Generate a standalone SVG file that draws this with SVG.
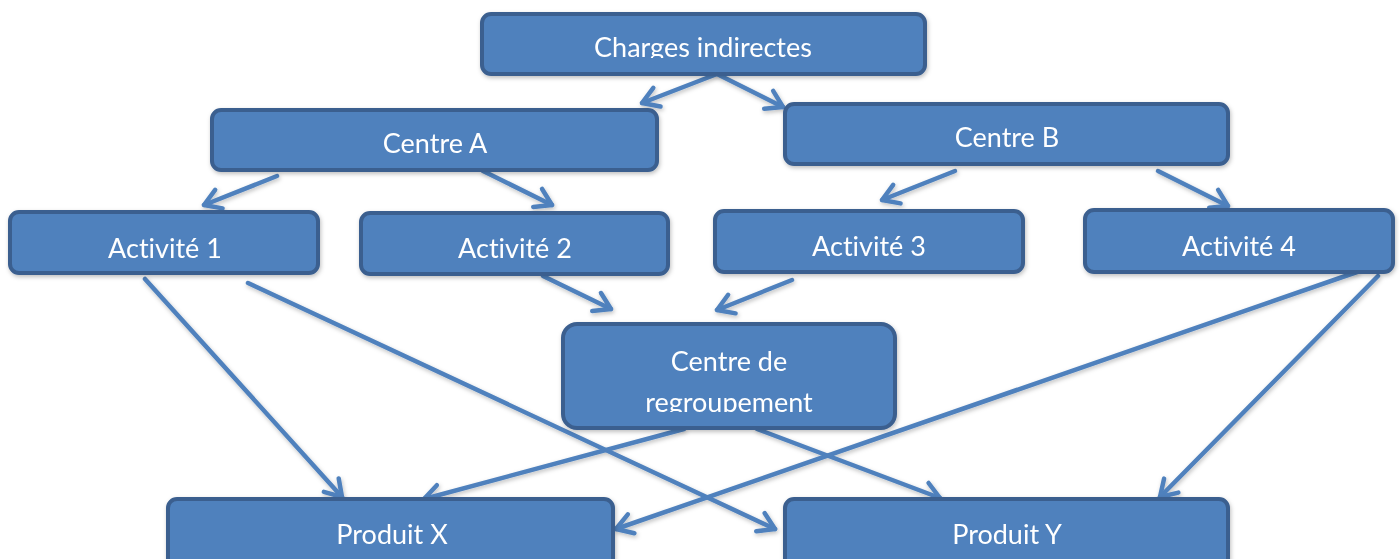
<svg xmlns="http://www.w3.org/2000/svg" width="1400" height="559" viewBox="0 0 1400 559">
<defs>
<style>
.box{fill:#4F81BD;stroke:#3B5F8F;stroke-width:4}
.lbl{font-family:Lato,"Open Sans","Liberation Sans",sans-serif;font-size:27px;fill:#FFFFFF;text-anchor:middle;font-variant-ligatures:none;font-feature-settings:"liga" 0}
.con{stroke:#4F81BD;stroke-width:4.5;fill:none;stroke-linecap:round}
</style>
<filter id="sh" x="-10%" y="-10%" width="120%" height="130%">
<feDropShadow dx="1" dy="2" stdDeviation="2" flood-color="#000" flood-opacity="0.25"/>
</filter>
<marker id="arr" viewBox="-22 -14 28 28" markerWidth="28" markerHeight="28" refX="0" refY="0" orient="auto" markerUnits="userSpaceOnUse">
<path d="M-16,-10 L0,0 L-16,10" fill="none" stroke="#4F81BD" stroke-width="4.5" stroke-linecap="round" stroke-linejoin="round"/>
</marker>
<clipPath id="c1"><rect x="480" y="10" width="450" height="48"/></clipPath>
<clipPath id="c2"><rect x="560" y="320" width="340" height="92"/></clipPath>
</defs>
<g id="connectors" filter="url(#sh)">
<line class="con" x1="717" y1="74" x2="642" y2="103" marker-end="url(#arr)"/>
<line class="con" x1="717" y1="74" x2="783" y2="107" marker-end="url(#arr)"/>
<line class="con" x1="277" y1="176" x2="204" y2="205" marker-end="url(#arr)"/>
<line class="con" x1="483" y1="171" x2="552" y2="205" marker-end="url(#arr)"/>
<line class="con" x1="955" y1="171" x2="882" y2="200" marker-end="url(#arr)"/>
<line class="con" x1="1158" y1="171" x2="1228" y2="206" marker-end="url(#arr)"/>
<line class="con" x1="543" y1="276" x2="611" y2="309" marker-end="url(#arr)"/>
<line class="con" x1="792" y1="280" x2="717" y2="310" marker-end="url(#arr)"/>
<line class="con" x1="145" y1="279" x2="342" y2="497" marker-end="url(#arr)"/>
<line class="con" x1="248" y1="283" x2="775" y2="529" marker-end="url(#arr)"/>
<line class="con" x1="684" y1="429" x2="424" y2="499" marker-end="url(#arr)"/>
<line class="con" x1="757" y1="429" x2="940" y2="498" marker-end="url(#arr)"/>
<line class="con" x1="1357" y1="272" x2="616" y2="529" marker-end="url(#arr)"/>
<line class="con" x1="1378" y1="276" x2="1160" y2="497" marker-end="url(#arr)"/>
</g>
<g id="charges" filter="url(#sh)"><rect class="box" x="482" y="14" width="443" height="60" rx="9"/><text class="lbl" x="703" y="57" clip-path="url(#c1)">Charges indirectes</text></g>
<g id="centreA" filter="url(#sh)"><rect class="box" x="212" y="110" width="445" height="60" rx="9"/><text class="lbl" x="435" y="153">Centre A</text></g>
<g id="centreB" filter="url(#sh)"><rect class="box" x="785" y="104" width="443" height="60" rx="9"/><text class="lbl" x="1007" y="147">Centre B</text></g>
<g id="act1" filter="url(#sh)"><rect class="box" x="10" y="212" width="308" height="61" rx="9"/><text class="lbl" x="165" y="258">Activité 1</text></g>
<g id="act2" filter="url(#sh)"><rect class="box" x="361" y="213" width="307" height="61" rx="9"/><text class="lbl" x="515" y="258">Activité 2</text></g>
<g id="act3" filter="url(#sh)"><rect class="box" x="715" y="211" width="308" height="61" rx="9"/><text class="lbl" x="869" y="256">Activité 3</text></g>
<g id="act4" filter="url(#sh)"><rect class="box" x="1085" y="210" width="308" height="62" rx="9"/><text class="lbl" x="1239" y="256">Activité 4</text></g>
<g id="regroupement" filter="url(#sh)"><rect class="box" x="563" y="324" width="332" height="104" rx="14"/><text class="lbl" clip-path="url(#c2)"><tspan x="729" y="371">Centre de</tspan><tspan x="729" y="412">regroupement</tspan></text></g>
<g id="produitX" filter="url(#sh)"><rect class="box" x="168" y="499" width="445" height="70" rx="9"/><text class="lbl" x="392" y="544">Produit X</text></g>
<g id="produitY" filter="url(#sh)"><rect class="box" x="785" y="499" width="443" height="70" rx="9"/><text class="lbl" x="1007" y="544">Produit Y</text></g>
</svg>
